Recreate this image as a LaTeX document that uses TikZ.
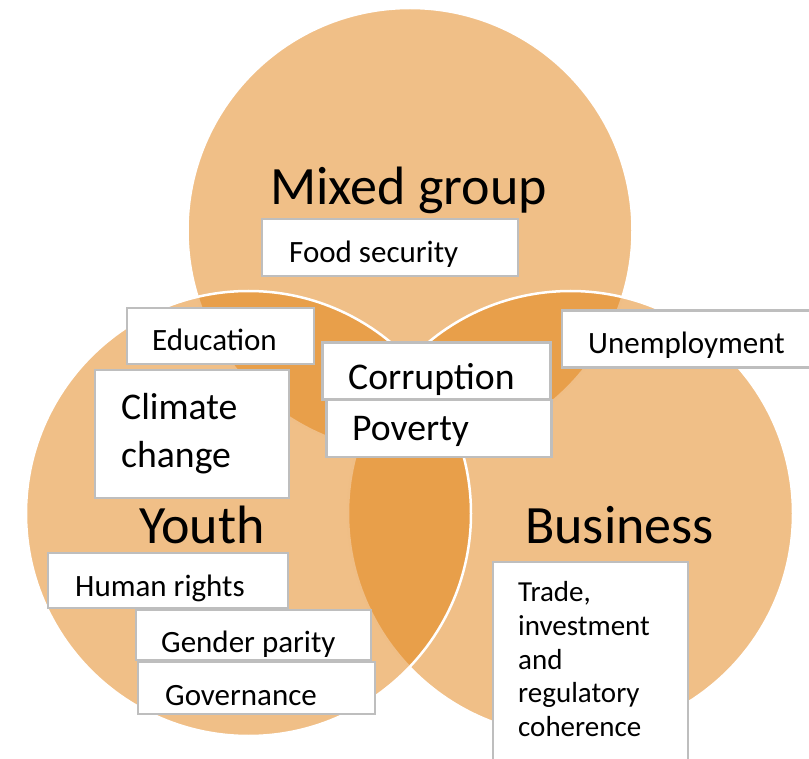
\documentclass[tikz,border=0pt]{standalone}
\usepackage{fontspec}
\setmainfont{Carlito}
\definecolor{venn}{RGB}{225,127,15}
\definecolor{boxline}{RGB}{190,190,190}
\begin{document}
\begin{tikzpicture}[x=1pt,y=-1pt,
  set/.style={circle, minimum size=445pt, inner sep=0pt, fill=venn, fill opacity=0.5, draw=white, draw opacity=1, line width=2.5pt},
  panel/.style={draw=boxline, fill=white, line width=2.5pt, inner sep=0pt},
  title/.style={anchor=base west, inner sep=0pt, font=\fontsize{54}{62}\selectfont},
  small/.style={anchor=base west, inner sep=0pt, font=\fontsize{31}{36}\selectfont},
  large/.style={anchor=base west, inner sep=0pt, font=\fontsize{37.7}{45}\selectfont},
  trade/.style={anchor=base west, inner sep=0pt, font=\fontsize{29}{34}\selectfont}]
\useasboundingbox (0,0) rectangle (809,759);

% three overlapping sets
\node[set] (mixed) at (410,230.5) {};
\node[set] (business) at (570.5,513.5) {};
\node[set] (youth) at (248.5,513.5) {};

% set titles
\node[title] (mixedT) at (270,205) {Mixed group};
\node[title] (youthT) at (139,543) {Youth};
\node[title] (businessT) at (525,543) {Business};

% topic boxes
\node[panel, minimum width=256pt, minimum height=57pt] (food) at (390,247.5) {};
\node[small] (foodT) at (289,263) {Food security};

\node[panel, minimum width=187pt, minimum height=56pt] (edu) at (220.5,336) {};
\node[small] (eduT) at (152,351) {Education};

\node[panel, minimum width=194pt, minimum height=128pt] (climate) at (192,434) {};
\node[large] (climateA) at (121,420) {Climate};
\node[large] (climateB) at (121,467) {change};

\node[panel, minimum width=228pt, minimum height=57pt] (corr) at (436.5,371) {};
\node[large] (corrT) at (348,390) {Corruption};

\node[panel, minimum width=225pt, minimum height=57pt] (pov) at (439,428.5) {};
\node[large] (povT) at (352,440) {Poverty};

\node[panel, minimum width=250pt, minimum height=57pt] (unemp) at (687,339) {};
\node[small] (unempT) at (588,354) {Unemployment};

\node[panel, minimum width=240pt, minimum height=55pt] (rights) at (168,580.5) {};
\node[small] (rightsT) at (75,596) {Human rights};

\node[panel, minimum width=235pt, minimum height=50pt] (gender) at (253.5,635) {};
\node[small] (genderT) at (161,652) {Gender parity};

\node[panel, minimum width=237pt, minimum height=52pt] (gov) at (256.5,688) {};
\node[small] (govT) at (165,705) {Governance};

\node[panel, minimum width=195pt, minimum height=220pt] (tradebox) at (590.5,672) {};
\node[trade] (tradeA) at (518,601) {Trade,};
\node[trade] (tradeB) at (518,635) {investment};
\node[trade] (tradeC) at (518,669) {and};
\node[trade] (tradeD) at (518,702) {regulatory};
\node[trade] (tradeE) at (518,736) {coherence};
\end{tikzpicture}
\end{document}
